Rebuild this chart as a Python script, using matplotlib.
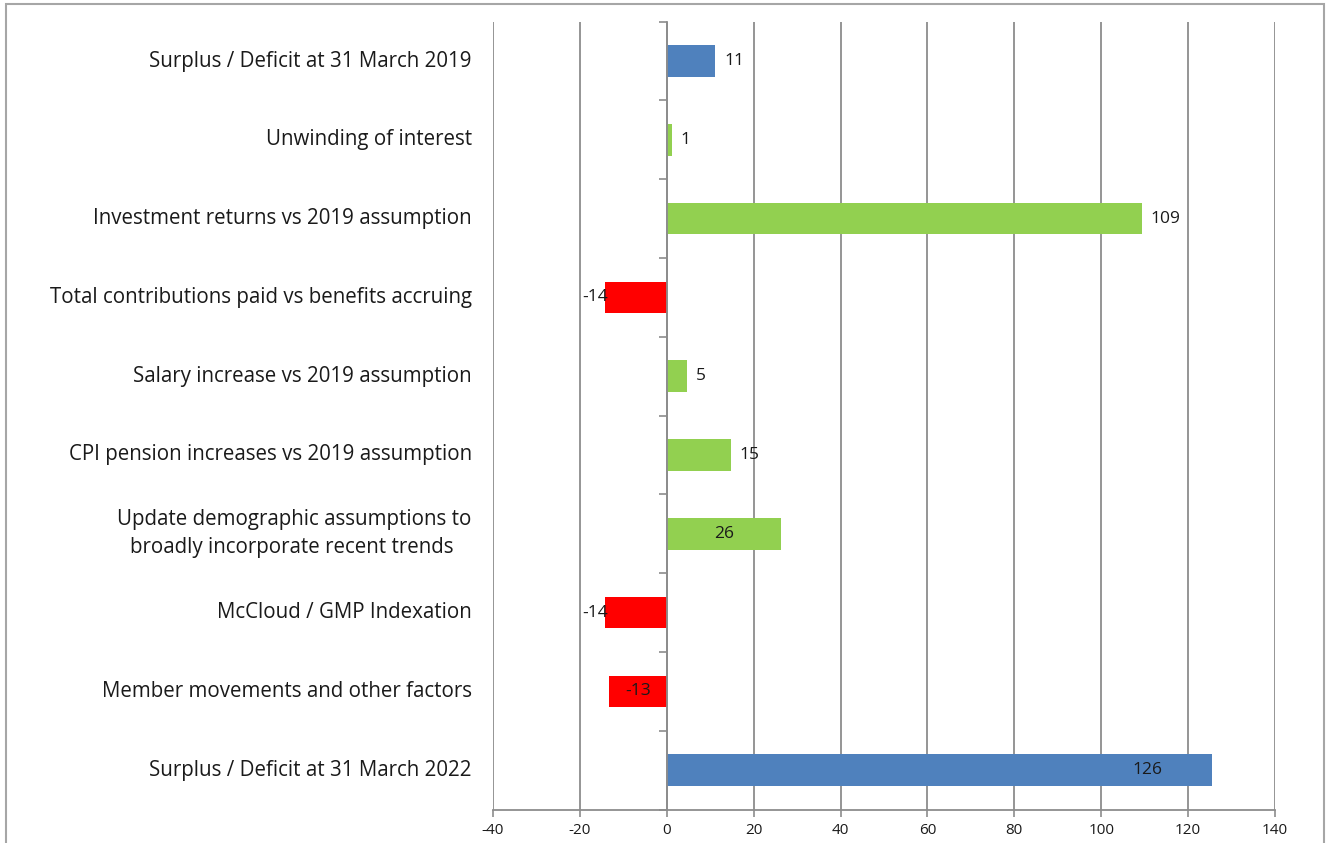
"""
Surplus / deficit bridge chart, 2019 -> 2022
"""
import matplotlib
matplotlib.use('Agg')
import matplotlib.pyplot as plt
from matplotlib.patches import Rectangle
from matplotlib.ticker import MultipleLocator
import matplotlib.transforms as mtransforms

plt.rcParams['font.family'] = ['Open Sans', 'DejaVu Sans']

# Data
categories = [
    'Surplus / Deficit at 31 March 2019',
    'Unwinding of interest',
    'Investment returns vs 2019 assumption',
    'Total contributions paid vs benefits accruing',
    'Salary increase vs 2019 assumption',
    'CPI pension increases vs 2019 assumption',
    'Update demographic assumptions to\nbroadly incorporate recent trends ',
    'McCloud / GMP Indexation',
    'Member movements and other factors',
    'Surplus / Deficit at 31 March 2022',
]
values = [11.2, 1.2, 109.3, -14.1, 4.6, 14.7, 26.4, -14.2, -13.2, 125.6]
value_labels = ['11', '1', '109', '-14', '5', '15', '26', '-14', '-13', '126']
kinds = ['total', 'change', 'change', 'change', 'change', 'change', 'change', 'change', 'change', 'total']
label_place = ['out', 'out', 'out', 'out', 'out', 'out', 'center', 'out', 'center', 'inend']
x_ticks = [-40, -20, 0, 20, 40, 60, 80, 100, 120, 140]

BLUE = '#4F81BD'
GREEN = '#92D050'
RED = '#FF0000'
GRID = '#8C8C8C'
TEXT = '#1a1a1a'

colors = []
for v, k in zip(values, kinds):
    if k == 'total':
        colors.append(BLUE)
    elif v >= 0:
        colors.append(GREEN)
    else:
        colors.append(RED)

fig = plt.figure(figsize=(13.28, 8.43), dpi=100)
ax = fig.add_axes([0.3712, 0.0397, 0.5889, 0.9346])

ypos = list(range(len(categories)))
ax.barh(ypos, values, height=0.4, color=colors, zorder=3)

ax.set_xlim(-40, 140)
ax.set_ylim(len(categories) - 0.5, -0.5)
ax.set_xticks(x_ticks)
ax.set_xticklabels([str(t) for t in x_ticks], fontsize=11, color=TEXT)
ax.tick_params(axis='x', length=5, width=1.2, color=GRID, pad=5)
ax.grid(axis='x', color=GRID, linewidth=1.3, zorder=0)
ax.set_axisbelow(True)

# vertical axis through zero, with ticks between categories
for side in ['top', 'right']:
    ax.spines[side].set_visible(False)
ax.spines['left'].set_position(('data', 0))
ax.spines['left'].set_color(GRID)
ax.spines['left'].set_linewidth(1.3)
ax.spines['left'].set_zorder(4)
ax.spines['bottom'].set_color(GRID)
ax.spines['bottom'].set_linewidth(1.3)
ax.set_yticks(ypos)
ax.set_yticklabels([])
ax.tick_params(axis='y', which='major', length=0)
ax.yaxis.set_minor_locator(MultipleLocator(1, offset=0.5))
ax.tick_params(axis='y', which='minor', length=6, width=1.2, color=GRID)

# category labels at the left of the plot area
trans = mtransforms.blended_transform_factory(ax.transAxes, ax.transData)
for y, cat in zip(ypos, categories):
    ax.text(-0.027, y, cat, transform=trans, ha='right', va='center',
            multialignment='center', fontsize=14.8, color=TEXT, linespacing=1.45)

# value labels
for y, v, lab, place in zip(ypos, values, value_labels, label_place):
    if place == 'center':
        ax.text(v / 2, y, lab, ha='center', va='center', fontsize=12.5, color=TEXT, zorder=5)
    elif place == 'inend':
        ax.text(v - 15, y, lab, ha='center', va='center', fontsize=12.5, color=TEXT, zorder=5)
    elif v >= 0:
        ax.text(v + 2, y, lab, ha='left', va='center', fontsize=12.5, color=TEXT, zorder=5)
    else:
        ax.text(v + 0.6, y, lab, ha='right', va='center', fontsize=12.5, color=TEXT, zorder=5)

# outer chart frame
fig.patches.append(Rectangle((0.0045, -0.05), 0.9925, 1.0453, transform=fig.transFigure,
                             fill=False, edgecolor='#A6A6A6', linewidth=1.5))

fig.savefig('out.png', dpi=100)
plt.close(fig)
